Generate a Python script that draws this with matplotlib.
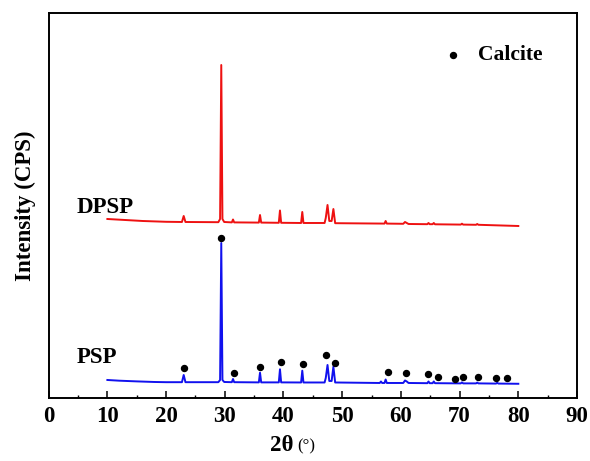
import numpy as np
import matplotlib
matplotlib.use("Agg")
import matplotlib.pyplot as plt
from matplotlib.ticker import MultipleLocator

# XRD patterns, 2theta (deg) vs intensity (arbitrary, offset traces)
psp_x = [10, 12, 15, 18, 20, 22.7, 23.0, 23.3, 28.9, 29.2, 29.4, 29.6, 29.9,
         31.2, 31.4, 31.6, 35.8, 36.0, 36.2, 39.2, 39.4, 39.6, 43.0, 43.2, 43.4,
         47.0, 47.2, 47.5, 47.8, 48.2, 48.5, 48.8, 56.4, 56.6, 56.8, 57.2, 57.4,
         57.6, 60.4, 60.7, 61.0, 61.3, 64.5, 64.7, 64.9, 65.4, 65.6, 65.8, 70.2,
         70.4, 70.6, 72.8, 73.0, 73.2, 76.2, 76.4, 76.6, 80]
psp_y = [18, 17.3, 16.6, 16, 15.8, 15.8, 23, 15.8, 15.8, 18, 155, 18, 16,
         15.8, 19, 15.8, 15.6, 25.3, 15.6, 15.6, 28.7, 15.6, 15.5, 27.3, 15.5,
         15.5, 20, 33, 17, 17, 31.3, 15.5, 15, 16.5, 15, 15, 18.5,
         15, 15, 17.5, 16.5, 15, 14.8, 16.5, 14.8, 14.8, 16.5, 14.8, 14.6,
         15.6, 14.6, 14.6, 15.4, 14.6, 14.4, 15.2, 14.4, 14.2]

dpsp_x = [10, 13, 16, 20, 22.7, 23.0, 23.3, 28.9, 29.2, 29.4, 29.6, 29.9,
          31.2, 31.4, 31.6, 35.8, 36.0, 36.2, 39.2, 39.4, 39.6, 43.0, 43.2, 43.4,
          47.0, 47.2, 47.5, 47.8, 48.2, 48.5, 48.8, 57.2, 57.4, 57.6, 60.4, 60.7,
          61.0, 61.3, 64.5, 64.7, 64.9, 65.4, 65.6, 65.8, 70.2, 70.4, 70.6, 72.8,
          73.0, 73.2, 80]
dpsp_y = [179, 178, 177, 176.2, 176, 182, 176, 175.8, 179, 333, 179, 176,
          175.6, 178.5, 175.6, 175.4, 183, 175.4, 175.2, 187.5, 175.2, 175, 186, 175,
          175, 180, 193, 177, 177, 189, 174.8, 174.4, 177, 174.4, 174.2, 176,
          175, 174, 173.8, 175, 173.8, 173.8, 175, 173.7, 173.4, 174.3, 173.4, 173.2,
          174, 173.2, 172]

# calcite reflections marked above the PSP trace
calcite_x = [23.1, 29.4, 31.6, 36.05, 39.5, 43.3, 47.2, 48.7, 57.75, 60.9,
             64.7, 66.3, 69.2, 70.5, 73.1, 76.2, 78.0]
calcite_y = [30.3, 160, 25.3, 31, 36, 34.3, 43, 35.3, 26.3, 25,
             23.7, 21.3, 19, 21.3, 21, 19.7, 20]

plt.rcParams['font.family'] = ['Liberation Serif', 'DejaVu Serif']
plt.rcParams['font.weight'] = 'bold'

fig = plt.figure(figsize=(5.9, 4.61), dpi=100)
ax = fig.add_axes([0.0825, 0.1367, 0.8955, 0.8351])

ax.plot(dpsp_x, dpsp_y, color='#ee1111', lw=1.4)
ax.plot(psp_x, psp_y, color='#1111ee', lw=1.4)
ax.plot(calcite_x, calcite_y, 'o', color='black', ms=4.3, ls='none')

ax.text(4.77, 185, 'DPSP', fontsize=16.5, fontweight='bold')
ax.text(4.77, 34.7, 'PSP', fontsize=16.5, fontweight='bold')

# legend
ax.plot([68.8], [343], 'o', color='black', ms=4.3)
ax.text(73.1, 343, 'Calcite', fontsize=15.5, fontweight='bold', va='center')

ax.set_xlim(0, 90)
ax.set_ylim(0, 385)
ax.xaxis.set_major_locator(MultipleLocator(10))
ax.xaxis.set_minor_locator(MultipleLocator(5))
ax.set_yticks([])
ax.tick_params(axis='x', which='major', direction='in', length=4.8, width=1.1,
               labelsize=16.5, pad=6)
ax.tick_params(axis='x', which='minor', direction='in', length=2.4, width=1.0)
for lab in ax.get_xticklabels():
    lab.set_fontweight('bold')
for sp in ax.spines.values():
    sp.set_linewidth(1.4)

ax.set_ylabel('Intensity (CPS)', fontsize=16.5, fontweight='bold', labelpad=9)
fig.text(0.497, 0.022, '2θ', fontsize=16.5, fontweight='bold', ha='right', va='baseline')
fig.text(0.503, 0.022, '(°)', fontsize=12, fontweight='normal', ha='left', va='baseline')

fig.savefig('out.png', dpi=100)
